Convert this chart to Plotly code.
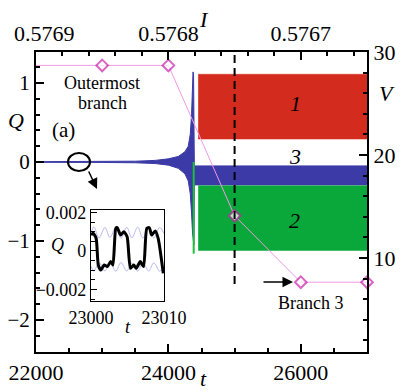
import plotly.graph_objects as go

# ---------------- data ----------------
# pink branch line (V on right axis) vs t
branch_t = [22000, 23000, 24000, 25000, 26000, 27000]
branch_V = [28.7, 28.7, 28.7, 14.1, 7.65, 7.65]
branch_marker = [0, 9, 9, 9, 9, 9]

# blue transient envelope (Q) and blue band 3
blue_up_t = [22000, 23000, 23500, 23800, 24000, 24150, 24250, 24300, 24330, 24350, 24365, 24372, 24380]
blue_up_Q = [0.004, 0.006, 0.01, 0.02, 0.04, 0.07, 0.13, 0.2, 0.35, 0.6, 0.95, 1.14, 1.1]
blue_lo_t = [22000, 23000, 23500, 23800, 24000, 24150, 24250, 24300, 24330, 24350, 24365, 24375, 24385]
blue_lo_Q = [-0.004, -0.006, -0.01, -0.02, -0.04, -0.08, -0.15, -0.24, -0.4, -0.65, -0.9, -1.0, -1.05]
band3_t = [24392, 27000]
band3_top = [-0.05, -0.05]
band3_bot = [-0.29, -0.29]

# red band 1 and green band 2
band1_t = [24450, 27000]
band1_top = [1.11, 1.11]
band1_bot = [0.29, 0.29]
band2_t = [24450, 27000]
band2_top = [-0.30, -0.30]
band2_bot = [-1.12, -1.12]
green_spike_t = [24382, 24382]
green_spike_Q = [0.0, -1.16]

# inset (t from 23000 to 23010)
inset_t = [23000, 23000.3, 23000.7, 23001.0, 23001.35, 23001.8, 23002.25, 23002.7, 23003.0,
           23003.4, 23003.6, 23004.05, 23004.5, 23004.95, 23005.4, 23005.85, 23006.2, 23006.75,
           23007.2, 23007.65, 23008.0, 23008.3, 23008.8, 23009.2, 23009.9]
inset_Q = [0.00083, 0.00092, 0.00066, -0.00073, -0.00099, -0.00073, -0.00081, -0.00055, -0.00073,
           0.00118, 0.00121, 0.00083, 0.00100, 0.00074, -0.00090, -0.00073, -0.00090, -0.00055,
           -0.00081, 0.00118, 0.00121, 0.00083, 0.00104, 0.00066, -0.00116]
lav_t = [23000, 23000.4, 23001.1, 23001.9, 23002.6, 23003.4, 23004.1, 23004.9, 23005.6,
         23006.4, 23007.1, 23007.9, 23008.6, 23009.4, 23010]
lav_up = [0.0009, 0.00125, 0.00068, 0.00122, 0.0007, 0.00124, 0.00066, 0.00123, 0.00068,
          0.00124, 0.00067, 0.00123, 0.00068, 0.00122, 0.0009]
lav_lo = [-0.0008, -0.00105, -0.0006, -0.00104, -0.00062, -0.00105, -0.0006, -0.00104, -0.00062,
          -0.00105, -0.0006, -0.00104, -0.00062, -0.00105, -0.0008]

x_ticks = [22000, 24000, 26000]
I_ticks = [0.5769, 0.5768, 0.5767]
Q_ticks = [-2, -1, 0, 1]
V_ticks = [10, 20, 30]

# ---------------- figure ----------------
# page body has an 8px margin: figure drawn at (8, 8) in the window
OFF = 8
W, H = 408 - OFF, 391 - OFF
L, R, T, B = 36, 367, 52, 352          # plot area in window pixels
FONT = "Liberation Serif"

def px(x):
    return (x - L) / (R - L)

def py(y):
    return (B - y) / (B - T)

RED = "#d42b1f"
BLUE = "#3b3aa6"
GREEN = "#0aa83b"

fig = go.Figure()

poly_x = blue_up_t + [band3_t[0], band3_t[1], band3_t[1], band3_t[0]] + blue_lo_t[::-1]
poly_y = blue_up_Q + [band3_top[0], band3_top[1], band3_bot[1], band3_bot[0]] + blue_lo_Q[::-1]
fig.add_trace(go.Scatter(x=poly_x, y=poly_y, fill="toself", fillcolor=BLUE,
                         line=dict(color=BLUE, width=1), mode="lines", hoverinfo="skip"))
fig.add_trace(go.Scatter(x=green_spike_t, y=green_spike_Q, mode="lines",
                         line=dict(color="#1fbf3a", width=2)))
fig.add_trace(go.Scatter(x=[band1_t[0], band1_t[1], band1_t[1], band1_t[0]],
                         y=[band1_top[0], band1_top[1], band1_bot[1], band1_bot[0]],
                         fill="toself", fillcolor=RED, line=dict(color=RED, width=0.5), mode="lines"))
fig.add_trace(go.Scatter(x=[band2_t[0], band2_t[1], band2_t[1], band2_t[0]],
                         y=[band2_top[0], band2_top[1], band2_bot[1], band2_bot[0]],
                         fill="toself", fillcolor=GREEN, line=dict(color=GREEN, width=0.5), mode="lines"))

fig.add_trace(go.Scatter(x=branch_t, y=branch_V, xaxis="x", yaxis="y2", mode="lines+markers",
                         line=dict(color="#ee9ae4", width=1),
                         marker=dict(symbol="diamond", size=branch_marker, color="white",
                                     line=dict(color="#cc22aa", width=2)),
                         cliponaxis=False))

fig.add_trace(go.Scatter(x=[0.5769, 0.57665], y=[0, 0], xaxis="x2", yaxis="y",
                         mode="markers", marker=dict(opacity=0), hoverinfo="skip"))

fig.add_trace(go.Scatter(x=lav_t, y=lav_up, xaxis="x3", yaxis="y3", mode="lines",
                         line=dict(color="#b8b8f2", width=1, shape="spline")))
fig.add_trace(go.Scatter(x=lav_t, y=lav_lo, xaxis="x3", yaxis="y3", mode="lines",
                         line=dict(color="#b8b8f2", width=1, shape="spline")))
fig.add_trace(go.Scatter(x=inset_t, y=inset_Q, xaxis="x3", yaxis="y3", mode="lines",
                         line=dict(color="black", width=3, shape="spline", smoothing=0.6)))

axis_common = dict(showline=True, linecolor="black", linewidth=2, showgrid=False, zeroline=False,
                   ticks="inside", ticklen=8, tickwidth=1.5, tickcolor="black", automargin=False,
                   tickfont=dict(family=FONT, size=22, color="black"))
left_axis = dict(axis_common)
left_axis["tickfont"] = dict(family=FONT, size=21, color="black")

fig.update_layout(
    width=W, height=H,
    margin=dict(l=L - OFF, r=W - (R - OFF), t=T - OFF, b=H - (B - OFF)),
    paper_bgcolor="white", plot_bgcolor="white",
    showlegend=False,
    xaxis=dict(range=[22000, 27000], tickvals=x_ticks, ticktext=[str(v) for v in x_ticks],
               minor=dict(dtick=500, ticks="inside", ticklen=4, tickcolor="black"),
               domain=[0, 1], **axis_common),
    xaxis2=dict(range=[0.5769, 0.57665], overlaying="x", side="top", anchor="y",
                tickvals=I_ticks, ticktext=["", "%.4f" % I_ticks[1], "%.4f" % I_ticks[2]],
                minor=dict(tickvals=[0.57688, 0.57686, 0.57684, 0.57682, 0.57678, 0.57676,
                                     0.57674, 0.57672, 0.57668, 0.57666],
                           ticks="inside", ticklen=4, tickcolor="black"),
                **axis_common),
    yaxis=dict(range=[-2.405, 1.392], tickvals=Q_ticks,
               ticktext=["\u22122", "\u22121", "0", "1"],
               minor=dict(dtick=0.2, ticks="inside", ticklen=4, tickcolor="black"),
               domain=[0, 1], **left_axis),
    yaxis2=dict(range=[0.874, 30], overlaying="y", side="right", anchor="x",
                tickvals=V_ticks, ticktext=[str(v) for v in V_ticks],
                minor=dict(dtick=2, ticks="inside", ticklen=4, tickcolor="black"),
                **axis_common),
    xaxis3=dict(domain=[px(91), px(164)], anchor="y3", range=[23000, 23010],
                tickvals=[23000, 23010], ticktext=["23000", "23010"], automargin=False,
                showline=True, mirror=True, linecolor="black", linewidth=1.2, showgrid=False,
                zeroline=False, ticks="inside", ticklen=5, tickcolor="black",
                tickfont=dict(family=FONT, size=18, color="black")),
    yaxis3=dict(domain=[py(301), py(210)], anchor="x3", range=[-0.0026, 0.00213],
                tickvals=[-0.002, 0, 0.002], ticktext=["\u22120.002", "0", "0.002"],
                minor=dict(dtick=0.0005, ticks="inside", ticklen=4, tickcolor="black"),
                automargin=False,
                showline=True, mirror=True, linecolor="black", linewidth=1.2, showgrid=False,
                zeroline=False, ticks="inside", ticklen=6, tickcolor="black",
                tickfont=dict(family=FONT, size=18, color="black")),
)

def label(text, x, y, size=22, anchor="center"):
    fig.add_annotation(text=text, x=px(x), y=py(y), xref="paper", yref="paper",
                       showarrow=False, xanchor=anchor, yanchor="middle",
                       font=dict(family=FONT, size=size, color="black"))

label("%.4f" % I_ticks[0], 44, 33)
label("<i>Q</i>", 16, 120)
label("<i>V</i>", 387, 93)
label("<i>I</i>", 204, 20)
label("<i>t</i>", 203, 378)
label("(a)", 63, 130, 21)
label("Outermost", 102, 83, 18)
label("branch", 102, 103, 18)
label("<i>1</i>", 295, 103)
label("<i>3</i>", 295, 156)
label("<i>2</i>", 294, 220)
label("Branch 3", 310, 303, 18)
label("<i>Q</i>", 57, 245, 18)
label("<i>t</i>", 128, 327, 18)

def arrow(x_head, y_head, x_tail, y_tail):
    fig.add_annotation(text="", x=px(x_head), y=py(y_head), xref="paper", yref="paper",
                       ax=x_tail - x_head, ay=y_tail - y_head, showarrow=True,
                       arrowhead=2, arrowsize=1.4, arrowwidth=1.5, arrowcolor="black")

arrow(293, 282, 262, 282)
arrow(97, 189, 88, 170)

fig.add_shape(type="circle", xref="paper", yref="paper",
              x0=px(68), x1=px(90), y0=py(171), y1=py(153),
              line=dict(color="black", width=2))
fig.add_shape(type="line", xref="x", yref="y", x0=25000, x1=25000, y0=1.354, y1=-1.595,
              line=dict(color="black", width=2, dash="8px,5px"))

fig.write_html("out.html")
